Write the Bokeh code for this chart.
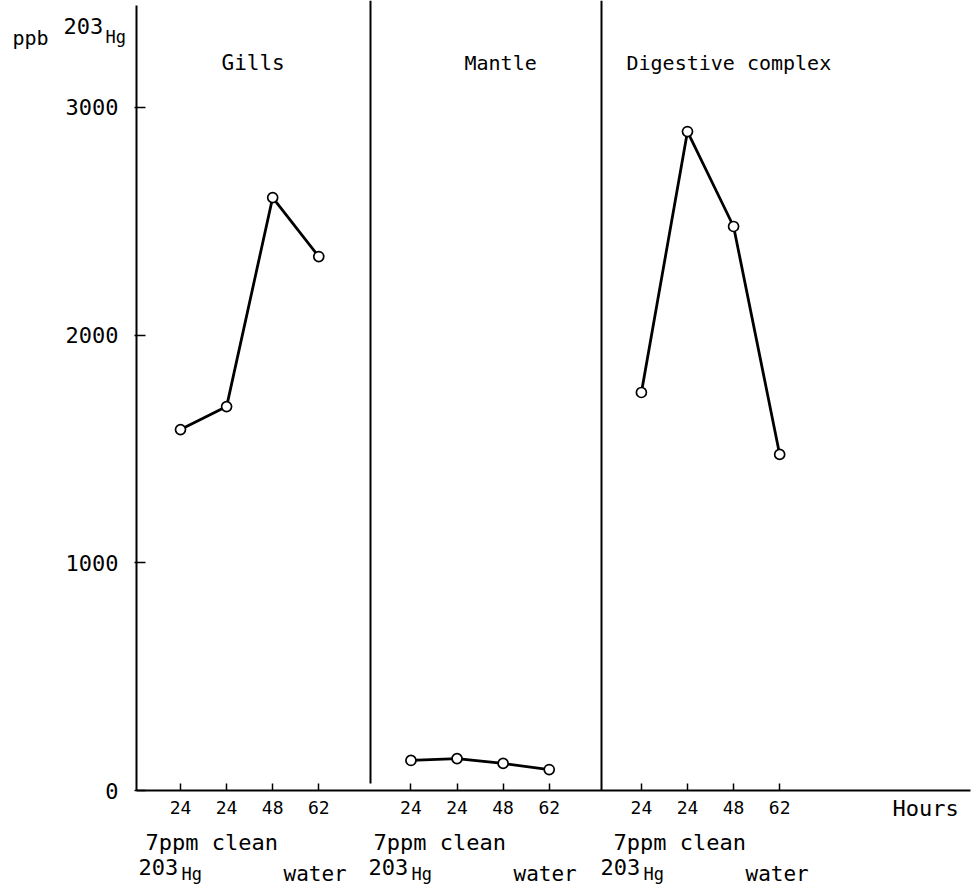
from bokeh.plotting import figure
from bokeh.models import Label, FixedTicker, Range1d
from bokeh.embed import file_html
from bokeh.resources import INLINE

# ---- data ----
groups = ["Gills", "Mantle", "Digestive complex"]
time_labels = ["24", "24", "48", "62"]
gills = [1585, 1686, 2604, 2345]
mantle = [132, 140, 119, 92]
digestive = [1748, 2894, 2477, 1476]
series = [gills, mantle, digestive]
y_ticks = [0, 1000, 2000, 3000]

FONT = "DejaVu Sans Mono"
W, H = 972, 885

# pixel <-> data helpers (frame covers the whole canvas)
PX_X0, PX_PER_X = 180.0, 46.09     # pixel of x=0, pixels per x unit
PX_Y0, PX_PER_Y = 790.0, 0.2277    # pixel of y=0, pixels per y unit


def dx(px):
    return (px - PX_X0) / PX_PER_X


def dy(py):
    return (PX_Y0 - py) / PX_PER_Y


p = figure(width=W, height=H, output_backend="svg", toolbar_location=None,
           x_range=Range1d(dx(0), dx(W)), y_range=Range1d(dy(H), dy(0)))
p.min_border = 0
p.min_border_left = 0
p.min_border_right = 0
p.min_border_top = 0
p.min_border_bottom = 0
p.outline_line_color = None
p.xgrid.visible = False
p.ygrid.visible = False
p.background_fill_color = "white"
p.border_fill_color = "white"

# x positions: 4 time points per group, groups separated by a gap
xs_all = []
for g in range(len(groups)):
    xs_all.append([g * 5 + i for i in range(len(time_labels))])

# x axis, drawn at y = 0
xa = p.xaxis[0]
xa.fixed_location = 0
xa.bounds = (dx(136), dx(970))
xa.ticker = FixedTicker(ticks=[x for xs in xs_all for x in xs])
xa.major_label_overrides = {x: time_labels[i] for xs in xs_all for i, x in enumerate(xs)}
xa.major_tick_in = 7
xa.major_tick_out = 0
xa.minor_tick_line_color = None
xa.major_label_standoff = 10
xa.major_label_text_font = FONT
xa.major_label_text_font_size = "18px"
xa.major_label_text_color = "black"
xa.axis_line_width = 2
xa.major_tick_line_width = 1.5

# y axis, drawn at the left edge of the data area
ya = p.yaxis[0]
ya.fixed_location = dx(136)
ya.bounds = (0, dy(5))
ya.ticker = FixedTicker(ticks=y_ticks)
ya.major_tick_in = 9
ya.major_tick_out = 2
ya.minor_tick_line_color = None
ya.major_label_standoff = 16
ya.major_label_text_font = FONT
ya.major_label_text_font_size = "22px"
ya.major_label_text_color = "black"
ya.axis_line_width = 2
ya.major_tick_line_width = 1.5

# group dividers
p.segment(x0=[dx(370), dx(601)], y0=[dy(783), dy(790)],
          x1=[dx(370), dx(601)], y1=[dy(0), dy(0)],
          line_color="black", line_width=2)

# data lines and points
for xs, ys in zip(xs_all, series):
    p.line(xs, ys, line_color="black", line_width=2.8)
    p.scatter(xs, ys, marker="circle", size=10, fill_color="white",
              line_color="black", line_width=1.7)


def lab(text, px, py, size="20px", align="left"):
    p.add_layout(Label(x=dx(px), y=dy(py), text=text, text_font=FONT,
                       text_font_size=size, text_align=align,
                       text_baseline="middle", text_color="black"))


# group titles
lab(groups[0], 221, 62, "21px")
lab(groups[1], 464, 62, "20px")
lab(groups[2], 626, 62, "20px")

# y axis title
lab("ppb", 12, 37, "20px")
lab("203", 63, 25, "22px")
lab("Hg", 105, 36, "17px")

# x axis title
lab("Hours", 892, 808, "22px")

# condition captions under each group
for left in [145, 373, 613]:
    lab("7ppm clean", left, 842, "22px")
for left in [138, 368, 600]:
    lab("203", left, 866, "22px")
    lab("Hg", left + 43, 873, "17px")
for left in [283, 513, 745]:
    lab("water", left, 873, "21px")

open("out.html", "w").write(file_html(p, INLINE))
